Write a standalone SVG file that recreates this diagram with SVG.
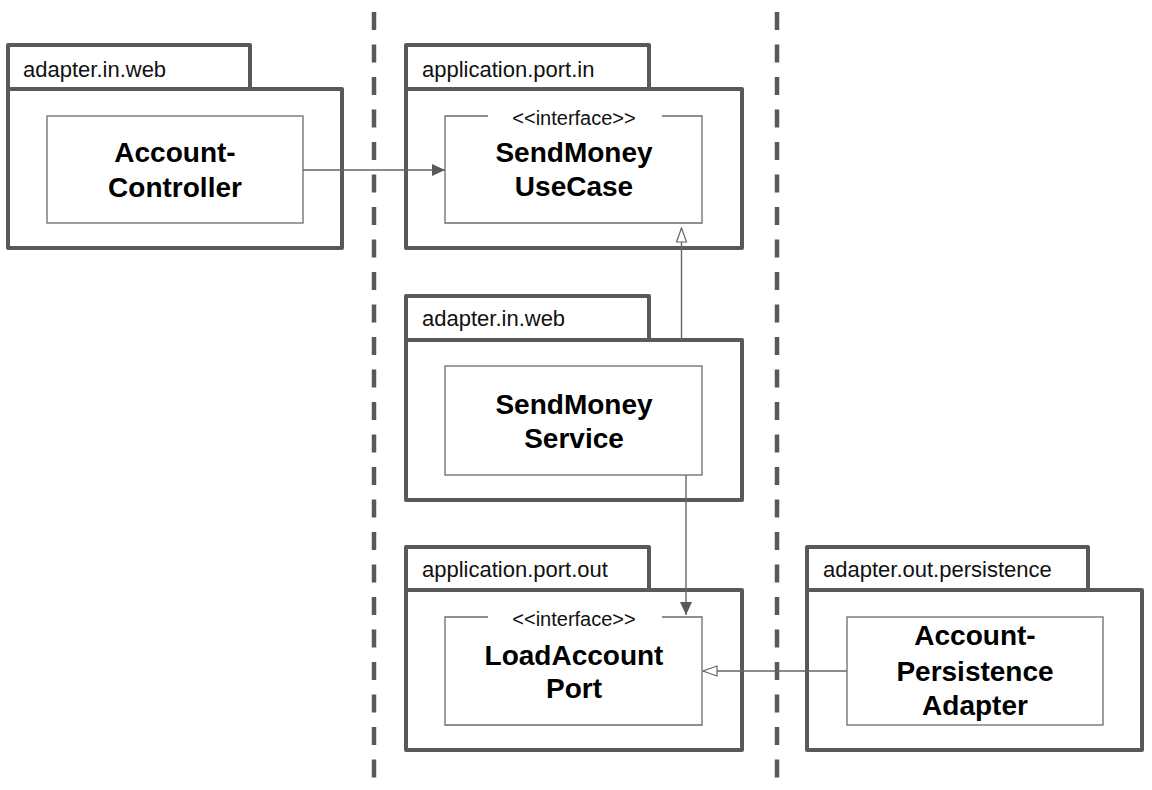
<svg xmlns="http://www.w3.org/2000/svg" width="1152" height="790" viewBox="0 0 1152 790">
<style>
.pkg{fill:#fff;stroke:#595959;stroke-width:4;stroke-linejoin:round}
.box{fill:#fff;stroke:#6b6b6b;stroke-width:1.3}
.boxline{fill:none;stroke:#6b6b6b;stroke-width:1.3}
.lbl{font-family:"Liberation Sans",Arial,sans-serif;font-size:22px;fill:#111}
.ster{font-family:"Liberation Sans",Arial,sans-serif;font-size:20px;fill:#111;text-anchor:middle}
.name{font-family:"Liberation Sans",Arial,sans-serif;font-size:28px;font-weight:bold;fill:#000;text-anchor:middle}
.dash{stroke:#595959;stroke-width:4.5;stroke-dasharray:18 14.5;fill:none}
.conn{stroke:#666;stroke-width:1.4;fill:none}
</style>
<defs>
<marker id="arrow" viewBox="0 0 13 12" refX="13" refY="6" markerWidth="13" markerHeight="12" markerUnits="userSpaceOnUse" orient="auto">
<path d="M0,0 L13,6 L0,12 Z" fill="#595959"/>
</marker>
<marker id="hollow" viewBox="0 0 16 12" refX="15" refY="6" markerWidth="16" markerHeight="12" markerUnits="userSpaceOnUse" orient="auto">
<path d="M1,1 L15,6 L1,11 Z" fill="#fff" stroke="#666" stroke-width="1.2"/>
</marker>
</defs>
<rect width="1152" height="790" fill="#fff"/>
<g id="layers">
<line class="dash" x1="374" y1="12" x2="374" y2="780"/>
<line class="dash" x1="777" y1="12" x2="777" y2="780"/>
</g>
<g id="pkg-adapter-in-web-1">
<rect class="pkg" x="8" y="45" width="242" height="44"/>
<rect class="pkg" x="8" y="89" width="334" height="159"/>
<text class="lbl" x="23" y="77">adapter.in.web</text>
<g id="account-controller">
<rect class="box" x="47" y="116" width="256" height="107"/>
<text class="name" x="175" y="162">Account-</text>
<text class="name" x="175" y="197">Controller</text>
</g>
</g>
<g id="pkg-application-port-in">
<rect class="pkg" x="406" y="45" width="243" height="44"/>
<rect class="pkg" x="406" y="89" width="336" height="159"/>
<text class="lbl" x="422" y="77">application.port.in</text>
<g id="send-money-usecase">
<rect x="445" y="116" width="257" height="107" fill="#fff"/>
<path class="boxline" d="M488,116 H445 V223 H702 V116 H662"/>
<text class="ster" x="574" y="125">&lt;&lt;interface&gt;&gt;</text>
<text class="name" x="574" y="162">SendMoney</text>
<text class="name" x="574" y="196">UseCase</text>
</g>
</g>
<g id="pkg-adapter-in-web-2">
<rect class="pkg" x="406" y="296" width="243" height="44"/>
<rect class="pkg" x="406" y="340" width="336" height="160"/>
<text class="lbl" x="422" y="326">adapter.in.web</text>
<g id="send-money-service">
<rect class="box" x="445" y="366" width="257" height="109"/>
<text class="name" x="574" y="414">SendMoney</text>
<text class="name" x="574" y="448">Service</text>
</g>
</g>
<g id="pkg-application-port-out">
<rect class="pkg" x="406" y="547" width="243" height="43"/>
<rect class="pkg" x="406" y="590" width="336" height="160"/>
<text class="lbl" x="422" y="577">application.port.out</text>
<g id="load-account-port">
<rect x="445" y="617" width="257" height="108" fill="#fff"/>
<path class="boxline" d="M488,617 H445 V725 H702 V617 H662"/>
<text class="ster" x="574" y="626">&lt;&lt;interface&gt;&gt;</text>
<text class="name" x="574" y="665">LoadAccount</text>
<text class="name" x="574" y="698">Port</text>
</g>
</g>
<g id="pkg-adapter-out-persistence">
<rect class="pkg" x="807" y="547" width="281" height="43"/>
<rect class="pkg" x="807" y="590" width="335" height="160"/>
<text class="lbl" x="823" y="577">adapter.out.persistence</text>
<g id="account-persistence-adapter">
<rect class="box" x="847" y="617" width="256" height="108"/>
<text class="name" x="975" y="645">Account-</text>
<text class="name" x="975" y="681">Persistence</text>
<text class="name" x="975" y="715">Adapter</text>
</g>
</g>
<g id="connectors">
<line class="conn" x1="303" y1="170" x2="445" y2="170" marker-end="url(#arrow)"/>
<line class="conn" x1="681.5" y1="340" x2="681.5" y2="228" marker-end="url(#hollow)"/>
<line class="conn" x1="686" y1="475" x2="686" y2="615" marker-end="url(#arrow)"/>
<line class="conn" x1="847" y1="671" x2="703" y2="671" marker-end="url(#hollow)"/>
</g>
</svg>
